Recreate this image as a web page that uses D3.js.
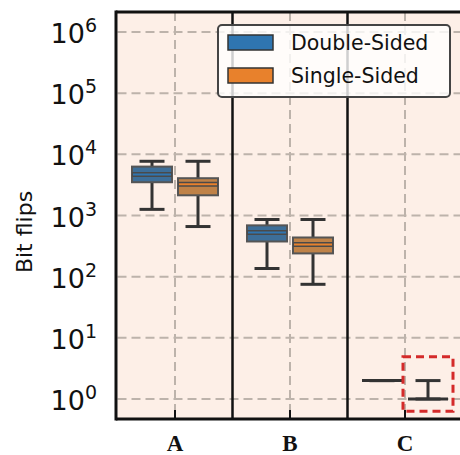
<!DOCTYPE html>
<html>
<head>
<meta charset="utf-8">
<script src="https://cdn.jsdelivr.net/npm/d3@7"></script>
<style>
  body { margin: 0; background: #fff; }
  svg { display: block; }
</style>
</head>
<body>
<div id="chart"></div>
<script>
var width = 460,
    height = 455;

// categories and series
var groups = ["A", "B", "C"];
var series = ["Double-Sided", "Single-Sided"];
var colors = ["#2f75b0", "#e8812c"];
var boxFill = ["#3d6e98", "#bf8248"];

// box stats per series, one value per group
var dblLow  = [1260, 136, 2];
var dblQ1   = [3500, 376, 2];
var dblMed  = [4700, 525, 2];
var dblQ3   = [6300, 690, 2];
var dblHigh = [7700, 860, 2];

var sglLow  = [660, 75, 1];
var sglQ1   = [2140, 240, 1];
var sglMed  = [3240, 336, 1];
var sglQ3   = [4070, 437, 1];
var sglHigh = [7700, 860, 2];

var yTicks = [1, 10, 100, 1000, 10000, 100000, 1000000];
var yExp = ["0", "1", "2", "3", "4", "5", "6"];

// highlighted region (group C, single-sided)
var hlGroup = "C", hlSeries = 1, hlRange = [0.63, 4.9];

var stats = [];
groups.forEach(function (g, i) {
    stats.push({group: g, s: 0, lo: dblLow[i], q1: dblQ1[i], med: dblMed[i], q3: dblQ3[i], hi: dblHigh[i]});
    stats.push({group: g, s: 1, lo: sglLow[i], q1: sglQ1[i], med: sglMed[i], q3: sglQ3[i], hi: sglHigh[i]});
});

var plotLeft = 117.5, plotTop = 12, plotBottom = 419;

var svg = d3.select("#chart").append("svg")
    .attr("width", width)
    .attr("height", height);

var x = d3.scaleBand()
    .domain(groups)
    .range([plotLeft, plotLeft + 115 * groups.length])
    .padding(0);
var xs = d3.scaleBand()
    .domain([0, 1])
    .range([x.bandwidth() / 2 - 46, x.bandwidth() / 2 + 46]);

var y = d3.scaleLog()
    .domain([1, 1e6])
    .range([399, 32]);

var boxW = 40, capW = 25;
function cx(d) { return x(d.group) + xs(d.s) + xs.bandwidth() / 2; }

// background
svg.append("rect")
    .attr("x", plotLeft)
    .attr("y", plotTop)
    .attr("width", width - plotLeft)
    .attr("height", plotBottom - plotTop)
    .attr("fill", "#fdefe7");

// grid
svg.selectAll(".hgrid")
    .data(yTicks)
    .enter().append("line")
    .attr("x1", plotLeft)
    .attr("x2", width)
    .attr("y1", function (d) { return y(d); })
    .attr("y2", function (d) { return y(d); })
    .attr("stroke", "#bdb3ab")
    .attr("stroke-width", 2)
    .attr("stroke-dasharray", "9,5");
svg.selectAll(".vgrid")
    .data(groups)
    .enter().append("line")
    .attr("x1", function (d) { return x(d) + x.bandwidth() / 2; })
    .attr("x2", function (d) { return x(d) + x.bandwidth() / 2; })
    .attr("y1", plotTop)
    .attr("y2", plotBottom)
    .attr("stroke", "#bdb3ab")
    .attr("stroke-width", 2)
    .attr("stroke-dasharray", "9,5");

// group separators
svg.selectAll(".sep")
    .data(groups.slice(1))
    .enter().append("line")
    .attr("x1", function (d) { return x(d); })
    .attr("x2", function (d) { return x(d); })
    .attr("y1", plotTop)
    .attr("y2", plotBottom)
    .attr("stroke", "#111")
    .attr("stroke-width", 2.5);

// x tick marks (inward)
svg.selectAll(".xtick")
    .data(groups)
    .enter().append("line")
    .attr("x1", function (d) { return x(d) + x.bandwidth() / 2; })
    .attr("x2", function (d) { return x(d) + x.bandwidth() / 2; })
    .attr("y1", plotBottom - 9)
    .attr("y2", plotBottom)
    .attr("stroke", "#111")
    .attr("stroke-width", 2);

// boxes
var box = svg.selectAll(".box")
    .data(stats)
    .enter().append("g");

box.append("line")
    .attr("x1", cx).attr("x2", cx)
    .attr("y1", function (d) { return y(d.hi); })
    .attr("y2", function (d) { return y(d.lo); })
    .attr("stroke", "#333")
    .attr("stroke-width", 3);
box.append("line")
    .attr("x1", function (d) { return cx(d) - capW / 2; })
    .attr("x2", function (d) { return cx(d) + capW / 2; })
    .attr("y1", function (d) { return y(d.hi); })
    .attr("y2", function (d) { return y(d.hi); })
    .attr("stroke", "#333")
    .attr("stroke-width", 3);
box.append("line")
    .attr("x1", function (d) { return cx(d) - capW / 2; })
    .attr("x2", function (d) { return cx(d) + capW / 2; })
    .attr("y1", function (d) { return y(d.lo); })
    .attr("y2", function (d) { return y(d.lo); })
    .attr("stroke", "#333")
    .attr("stroke-width", 3);
box.append("rect")
    .attr("x", function (d) { return cx(d) - boxW / 2; })
    .attr("y", function (d) { return y(d.q3); })
    .attr("width", boxW)
    .attr("height", function (d) { return y(d.q1) - y(d.q3); })
    .attr("fill", function (d) { return boxFill[d.s]; })
    .attr("stroke", "#555")
    .attr("stroke-width", 2);
box.append("line")
    .attr("x1", function (d) { return cx(d) - boxW / 2; })
    .attr("x2", function (d) { return cx(d) + boxW / 2; })
    .attr("y1", function (d) { return y(d.med); })
    .attr("y2", function (d) { return y(d.med); })
    .attr("stroke", function (d) { return d.q1 == d.q3 ? "#333" : "#4a4a4a"; })
    .attr("stroke-width", function (d) { return d.q1 == d.q3 ? 3 : 5; });
box.filter(function (d) { return d.q1 != d.q3; })
    .append("line")
    .attr("x1", function (d) { return cx(d) - boxW / 2 + 1; })
    .attr("x2", function (d) { return cx(d) + boxW / 2 - 1; })
    .attr("y1", function (d) { return y(d.med); })
    .attr("y2", function (d) { return y(d.med); })
    .attr("stroke", function (d) { return colors[d.s]; })
    .attr("stroke-width", 2);

// highlight box
var hlX = x(hlGroup) + xs(hlSeries) + xs.bandwidth() / 2;
svg.append("rect")
    .attr("x", hlX - 25)
    .attr("y", y(hlRange[1]))
    .attr("width", 50)
    .attr("height", y(hlRange[0]) - y(hlRange[1]))
    .attr("fill", "none")
    .attr("stroke", "#d42a2a")
    .attr("stroke-width", 3)
    .attr("stroke-dasharray", "8,5");

// frame
svg.append("line")
    .attr("x1", plotLeft - 1.5).attr("x2", width)
    .attr("y1", plotTop).attr("y2", plotTop)
    .attr("stroke", "#111").attr("stroke-width", 3);
svg.append("line")
    .attr("x1", plotLeft - 1.5).attr("x2", width)
    .attr("y1", plotBottom).attr("y2", plotBottom)
    .attr("stroke", "#111").attr("stroke-width", 3);
svg.append("line")
    .attr("x1", plotLeft - 1.5).attr("x2", plotLeft - 1.5)
    .attr("y1", plotTop - 1.5).attr("y2", plotBottom + 1.5)
    .attr("stroke", "#111").attr("stroke-width", 3);

// y tick labels
var ylab = svg.selectAll(".ylab")
    .data(yTicks)
    .enter().append("text")
    .attr("x", 97)
    .attr("y", function (d) { return y(d) + 11; })
    .attr("text-anchor", "end")
    .attr("font-family", "DejaVu Sans")
    .attr("font-size", 27)
    .attr("fill", "#111");
ylab.append("tspan").text("10");
ylab.append("tspan")
    .attr("dy", -11)
    .attr("font-size", 19)
    .text(function (d, i) { return yExp[i]; });

// y axis title
svg.append("text")
    .attr("transform", "translate(32,232) rotate(-90)")
    .attr("text-anchor", "middle")
    .attr("font-family", "DejaVu Sans")
    .attr("font-size", 22)
    .attr("fill", "#111")
    .text("Bit flips");

// x labels
svg.selectAll(".xlab")
    .data(groups)
    .enter().append("text")
    .attr("x", function (d) { return x(d) + x.bandwidth() / 2; })
    .attr("y", 451)
    .attr("text-anchor", "middle")
    .attr("font-family", "Liberation Serif")
    .attr("font-weight", "bold")
    .attr("font-size", 23)
    .attr("fill", "#111")
    .text(function (d) { return d; });

// legend
var legend = svg.append("g").attr("transform", "translate(218,25)");
legend.append("rect")
    .attr("width", 232)
    .attr("height", 72)
    .attr("rx", 4)
    .attr("fill", "#fff")
    .attr("fill-opacity", 0.8)
    .attr("stroke", "#444")
    .attr("stroke-width", 2);
series.forEach(function (s, i) {
    legend.append("rect")
        .attr("x", 10)
        .attr("y", 10 + i * 33)
        .attr("width", 45)
        .attr("height", 15)
        .attr("fill", colors[i])
        .attr("stroke", "#333")
        .attr("stroke-width", 1.5);
    legend.append("text")
        .attr("x", 73)
        .attr("y", 25 + i * 33)
        .attr("font-family", "DejaVu Sans")
        .attr("font-size", 20.5)
        .attr("fill", "#111")
        .text(s);
});
</script>
</body>
</html>
